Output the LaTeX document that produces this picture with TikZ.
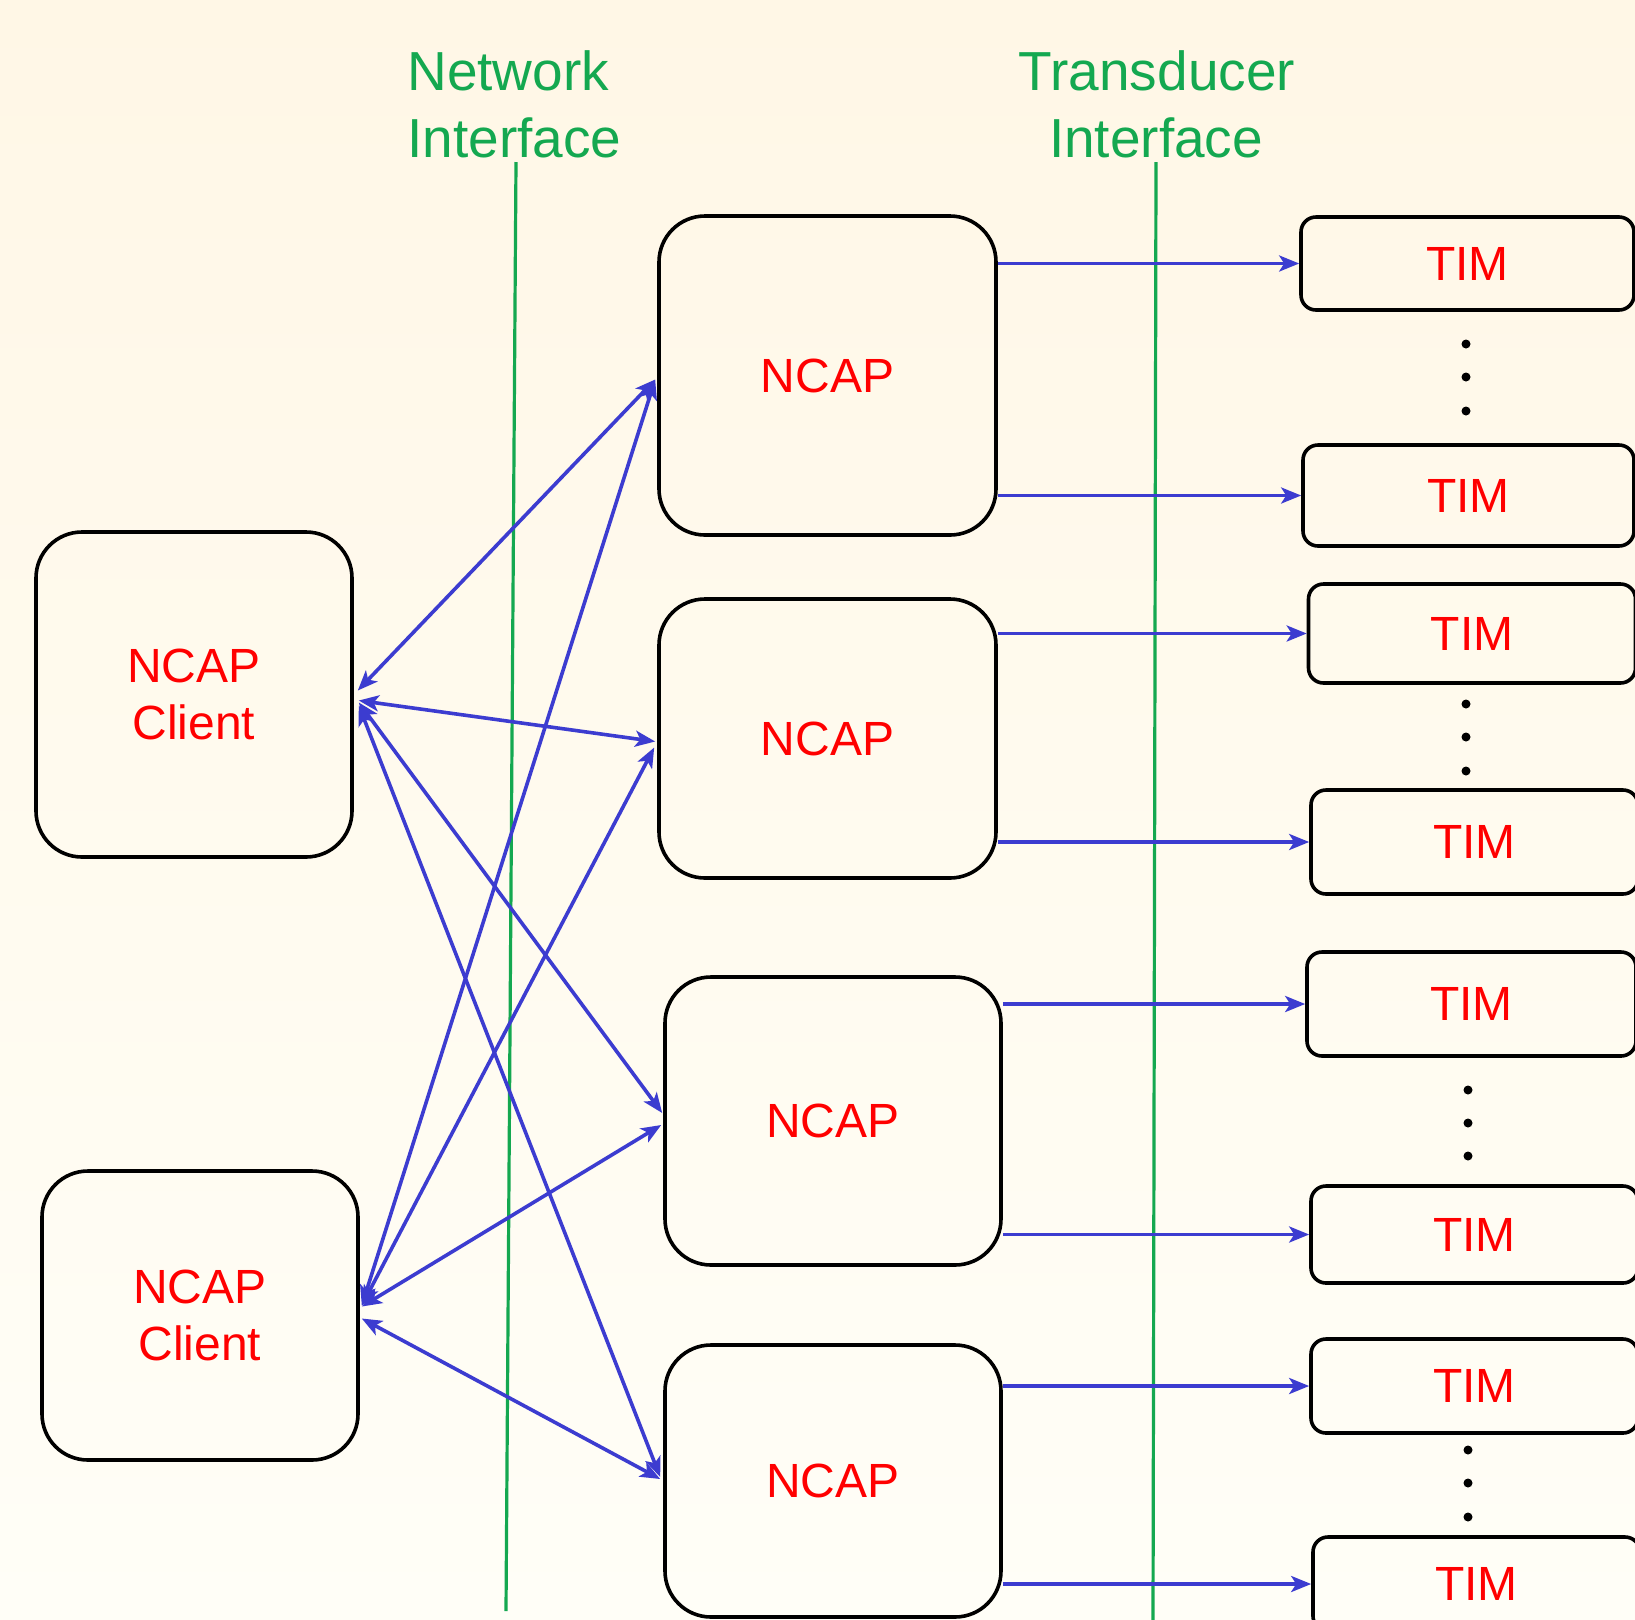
\documentclass[tikz,border=0pt]{standalone}
\usepackage{fontspec}
\setmainfont{Liberation Sans}
\usetikzlibrary{arrows.meta,calc}
\definecolor{arrblue}{RGB}{60,60,208}
\definecolor{ifgreen}{RGB}{20,168,80}
\definecolor{txtred}{RGB}{255,0,0}
\definecolor{bgtop}{RGB}{255,247,230}
\definecolor{bgbot}{RGB}{255,254,247}
\tikzset{
  boxbase/.style={draw=black, line width=1.8pt, inner sep=0pt, text=txtred,
    font=\fontsize{24}{28.5}\selectfont, align=center},
  ncapbox/.style={boxbase, rounded corners=23pt},
  timbox/.style={boxbase, rounded corners=7.5pt},
  ifline/.style={draw=ifgreen, line width=1.6pt},
  iflabel/.style={text=ifgreen, font=\fontsize{27.5}{33.5}\selectfont, inner sep=0pt},
  tip/.tip={Stealth[length=10pt,width=8pt,inset=2.5pt]},
  link/.style={draw=arrblue, line width=1.8pt, tip-tip},
  feed/.style={draw=arrblue, line width=1.8pt, -tip},
  tdot/.style={fill=black, draw=none, circle, minimum size=4.5pt, inner sep=0pt}
}
\begin{document}
\begin{tikzpicture}[x=0.5pt,y=-0.5pt]
\useasboundingbox (0,0) rectangle (1635,1619);
\clip (0,0) rectangle (1635,1619);
\shade[top color=bgtop, bottom color=bgbot] (0,0) rectangle (1635,1619);

% interface labels
\node[iflabel, anchor=base west] (nw1) at (407,90) {Network};
\node[iflabel, anchor=base west] (nw2) at (407,157) {Interface};
\node[iflabel, anchor=base] (td1) at (1157,90) {Transducer};
\node[iflabel, anchor=base] (td2) at (1156,157) {Interface};

% interface lines
\coordinate (g1t) at (516,162);
\coordinate (g1b) at (506,1611);
\coordinate (g2t) at (1156,162);
\coordinate (g2b) at (1153,1625);
\draw[ifline] (g1t) -- (g1b);
\draw[ifline] (g2t) -- (g2b);

% clients
\node[ncapbox, minimum width=158pt, minimum height=162.5pt] (c1) at (194,694.5) {NCAP\\Client};
\node[ncapbox, minimum width=158pt, minimum height=144.5pt] (c2) at (200,1315.5) {NCAP\\Client};

% NCAPs
\node[ncapbox, minimum width=168.5pt, minimum height=159.5pt] (n1) at (827.5,375.5) {NCAP};
\node[ncapbox, minimum width=168.5pt, minimum height=139.5pt] (n2) at (827.5,738.5) {NCAP};
\node[ncapbox, minimum width=168pt, minimum height=144pt] (n3) at (833,1121) {NCAP};
\node[ncapbox, minimum width=168pt, minimum height=136pt] (n4) at (833,1481) {NCAP};

% TIMs
\node[timbox, minimum width=166.5pt, minimum height=46.5pt] (t1) at (1467.5,263.5) {TIM};
\node[timbox, minimum width=165.5pt, minimum height=50.5pt] (t2) at (1468.5,495.5) {TIM};
\node[timbox, minimum width=163.5pt, minimum height=49.5pt] (t3) at (1472,633.5) {TIM};
\node[timbox, minimum width=163.5pt, minimum height=52pt] (t4) at (1474.5,842) {TIM};
\node[timbox, minimum width=164.5pt, minimum height=52pt] (t5) at (1471.5,1004) {TIM};
\node[timbox, minimum width=163.5pt, minimum height=48.5pt] (t6) at (1474.5,1234.5) {TIM};
\node[timbox, minimum width=163.5pt, minimum height=47pt] (t7) at (1474.5,1386) {TIM};
\node[timbox, minimum width=163.5pt, minimum height=47pt] (t8) at (1476.5,1584) {TIM};

% dots
\node[tdot] (d1a) at (1466,344) {};
\node[tdot] (d1b) at (1466,377) {};
\node[tdot] (d1c) at (1466,411) {};
\node[tdot] (d2a) at (1466,704) {};
\node[tdot] (d2b) at (1466,737) {};
\node[tdot] (d2c) at (1466,771) {};
\node[tdot] (d3a) at (1468,1090) {};
\node[tdot] (d3b) at (1468,1123) {};
\node[tdot] (d3c) at (1468,1156) {};
\node[tdot] (d4a) at (1468,1450) {};
\node[tdot] (d4b) at (1468,1483) {};
\node[tdot] (d4c) at (1468,1517) {};

% NCAP -> TIM
\draw[feed] (n1.east |- t1.west) -- (t1.west);
\draw[feed] (n1.east |- t2.west) -- (t2.west);
\draw[feed] (n2.east |- t3.west) -- (t3.west);
\draw[feed] (n2.east |- t4.west) -- (t4.west);
\draw[feed] (n3.east |- t5.west) -- (t5.west);
\draw[feed] (n3.east |- t6.west) -- (t6.west);
\draw[feed] (n4.east |- t7.west) -- (t7.west);
\draw[feed] (n4.east |- t8.west) -- (t8.west);

% client <-> NCAP
\draw[link] ($(c1.east)+(4,-4)$) -- ($(n1.west)+(-2,4)$);
\draw[link] ($(c1.east)+(5,6)$) -- ($(n2.west)+(-2,3)$);
\draw[link] ($(c1.east)+(5,8)$) -- ($(n3.west)+(-1,-8)$);
\draw[link] ($(c1.east)+(5,11)$) -- ($(n4.west)+(-3,-4)$);
\draw[link] ($(c2.east)+(2,-10)$) -- ($(n1.west)+(-2,4)$);
\draw[link] ($(c2.east)+(2,-10)$) -- ($(n2.west)+(-3,9)$);
\draw[link] ($(c2.east)+(2,-9)$) -- ($(n3.west)+(-2,4)$);
\draw[link] ($(c2.east)+(2,3)$) -- ($(n4.west)+(-3,-2)$);
\end{tikzpicture}
\end{document}
